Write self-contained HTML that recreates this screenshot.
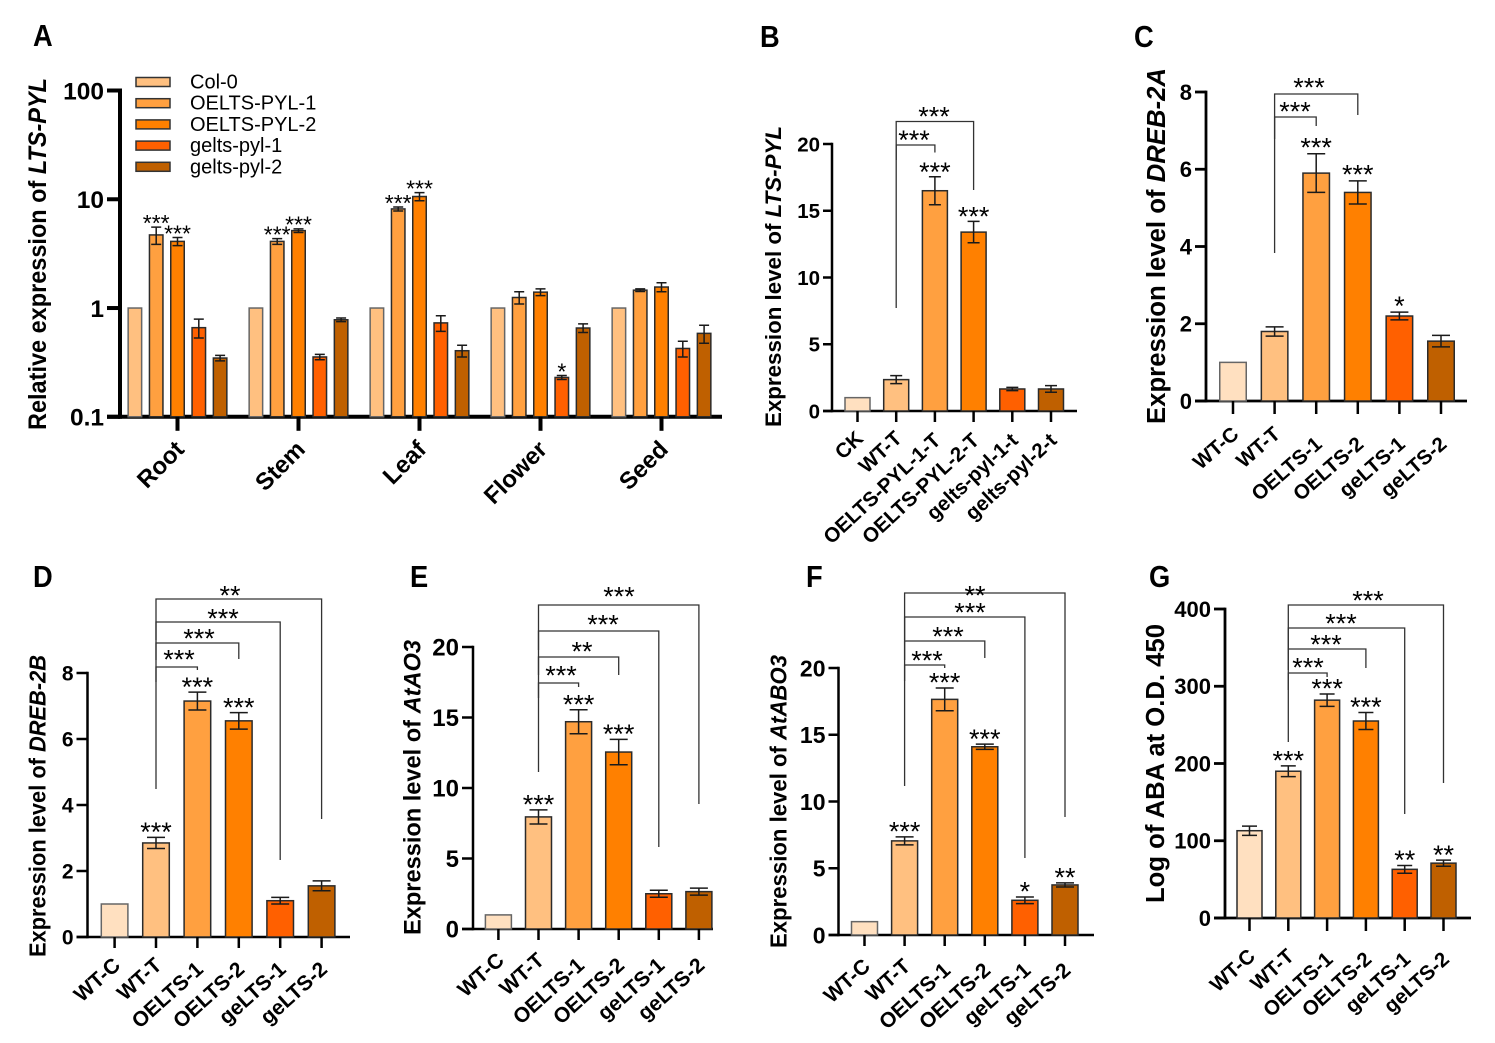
<!DOCTYPE html>
<html>
<head>
<meta charset="utf-8">
<title>LTS-PYL expression panels</title>
<style>
html,body{margin:0;padding:0;background:#fff;}
svg{display:block;}
text{font-family:"Liberation Sans",Arial,sans-serif;fill:#000;}
</style>
</head>
<body>
<svg id="figure" xmlns="http://www.w3.org/2000/svg" width="1495" height="1043" viewBox="0 0 1495 1043"></svg>
<script>
// ---------- Panel A data ----------
const tissuesA = ['Root', 'Stem', 'Leaf', 'Flower', 'Seed'];
const seriesNamesA = ['Col-0', 'OELTS-PYL-1', 'OELTS-PYL-2', 'gelts-pyl-1', 'gelts-pyl-2'];
const ticksA = [0.1, 1, 10, 100];
const tickLabelsA = ['0.1', '1', '10', '100'];
const col0Values = [1, 1, 1, 1, 1];
const col0Errors = [0, 0, 0, 0, 0];
const oe1Values = [4.7, 4.1, 8.15, 1.25, 1.46];
const oe1Errors = [0.85, 0.25, 0.35, 0.16, 0.04];
const oe2Values = [4.1, 5.15, 10.6, 1.4, 1.56];
const oe2Errors = [0.35, 0.2, 0.9, 0.1, 0.15];
const ge1Values = [0.66, 0.355, 0.73, 0.23, 0.425];
const ge1Errors = [0.13, 0.02, 0.12, 0.01, 0.07];
const ge2Values = [0.347, 0.78, 0.405, 0.655, 0.585];
const ge2Errors = [0.02, 0.03, 0.05, 0.06, 0.11];
const col0Stars = ['', '', '', '', ''];
const oe1Stars = ['***', '***', '***', '', ''];
const oe2Stars = ['***', '***', '***', '', ''];
const ge1Stars = ['', '', '', '*', ''];
const ge2Stars = ['', '', '', '', ''];

// ---------- Panel B data ----------
const categoriesB = ['CK', 'WT-T', 'OELTS-PYL-1-T', 'OELTS-PYL-2-T', 'gelts-pyl-1-t', 'gelts-pyl-2-t'];
const valuesB = [1, 2.35, 16.5, 13.4, 1.65, 1.65];
const errorsB = [0, 0.3, 1.05, 0.8, 0.12, 0.25];
const starsB = ['', '', '***', '***', '', ''];
const ticksB = [0, 5, 10, 15, 20];

// ---------- Panels C-G data ----------
const categoriesLines = ['WT-C', 'WT-T', 'OELTS-1', 'OELTS-2', 'geLTS-1', 'geLTS-2'];
const valuesC = [1, 1.8, 5.9, 5.4, 2.2, 1.55];
const errorsC = [0, 0.12, 0.5, 0.3, 0.1, 0.15];
const starsC = ['', '', '***', '***', '*', ''];
const ticksC = [0, 2, 4, 6, 8];

const valuesD = [1, 2.85, 7.15, 6.55, 1.1, 1.55];
const errorsD = [0, 0.17, 0.27, 0.25, 0.1, 0.15];
const starsD = ['', '***', '***', '***', '', ''];
const ticksD = [0, 2, 4, 6, 8];

const valuesE = [1, 7.95, 14.7, 12.55, 2.5, 2.65];
const errorsE = [0, 0.5, 0.85, 0.9, 0.25, 0.25];
const starsE = ['', '***', '***', '***', '', ''];
const ticksE = [0, 5, 10, 15, 20];

const valuesF = [1, 7.05, 17.65, 14.1, 2.6, 3.75];
const errorsF = [0, 0.3, 0.85, 0.2, 0.25, 0.15];
const starsF = ['', '***', '***', '***', '*', '**'];
const ticksF = [0, 5, 10, 15, 20];

const valuesG = [113, 190, 282, 255, 63, 71];
const errorsG = [6, 7, 8, 11, 5, 4];
const starsG = ['', '***', '***', '***', '**', '**'];
const ticksG = [0, 100, 200, 300, 400];

// ---------- Styling / layout (not data) ----------
const paletteA = ['#FFC080', '#FFA040', '#FF8000', '#FF6000', '#BF6000'];
const paletteSix = ['#FFE0C0', '#FFC080', '#FFA040', '#FF8000', '#FF6000', '#BF6000'];
const svg = document.getElementById('figure');
const NS = 'http://www.w3.org/2000/svg';

function make(tag, parent, props, content) {
  const el = document.createElementNS(NS, tag);
  for (const k in props) el.setAttribute(k, props[k]);
  if (content !== undefined) el.textContent = content;
  parent.appendChild(el);
  return el;
}

function axisLinear(base, top, max) {
  return function (v) { return base - (v / max) * (base - top); };
}
function axisLog(base, top, minV, maxV) {
  const lo = Math.log10(minV), hi = Math.log10(maxV);
  return function (v) { return base - (Math.log10(v) - lo) / (hi - lo) * (base - top); };
}

function drawLetter(letter, x, y) {
  const t = make('text', svg, { transform: 'translate(' + x + ',' + y + ') scale(0.88,1)', 'font-size': 31, 'font-weight': 'bold' }, letter);
  
  
}

function drawTitle(g, parts, cx, cy, len, fs) {
  const t = make('text', g, {
    transform: 'translate(' + cx + ',' + cy + ') rotate(-90)',
    'text-anchor': 'middle', 'font-size': fs, 'font-weight': 'bold',
    dy: '0.36em', textLength: len, lengthAdjust: 'spacingAndGlyphs'
  });
  
  
  make('tspan', t, {}, parts[0]);
  if (parts[1]) make('tspan', t, { 'font-style': 'italic' }, parts[1]);
}

function drawAxes(g, p, yOf, ticks, labels) {
  const yAxis = make('line', g, { x1: p.axisX, x2: p.axisX, y1: p.top - p.axisW / 2, y2: p.base + p.axisW / 2, stroke: '#000', 'stroke-width': p.axisW });
  
  
  const xAxis = make('line', g, { x1: p.axisX - p.yTick, x2: p.endX, y1: p.base, y2: p.base, stroke: '#000', 'stroke-width': p.axisW });
  
  
  ticks.forEach(function (v, i) {
    const yy = yOf(v);
    const tk = make('line', g, { x1: p.axisX - p.yTick, x2: p.axisX, y1: yy, y2: yy, stroke: '#000', 'stroke-width': p.axisW });
    
    
    const lb = make('text', g, { x: p.axisX - p.yTick - 3, y: yy + p.tickFs * 0.36, 'text-anchor': 'end', 'font-size': p.tickFs, 'font-weight': 'bold' }, labels ? labels[i] : String(v));
    
    
  });
}

function drawXLabel(g, p, tx, label, idx) {
  const tk = make('line', g, { x1: tx, x2: tx, y1: p.base, y2: p.base + p.xTick, stroke: '#000', 'stroke-width': p.xTickW });
  
  
  const extra = (p.labelExtra && idx >= 2) ? p.labelExtra : 0;
  const lx = tx + p.labelDx, ly = p.base + p.labelDy + extra;
  const lb = make('text', g, { transform: 'translate(' + lx + ',' + ly + ') rotate(' + (p.labelAngle || -45) + ')', 'text-anchor': 'end', 'font-size': p.labelFs, 'font-weight': 'bold' }, label);
  
  
}

function drawBar(g, p, yOf, cx, val, err, color, star) {
  const yy = yOf(val);
  const bar = make('rect', g, { x: cx - p.barW / 2, y: yy, width: p.barW, height: p.base - yy, fill: color, stroke: err > 0 ? '#2b2b2b' : '#666', 'stroke-width': p.barStroke });
  
  
  if (err > 0) {
    const hi = yOf(val + err), lo = yOf(val - err);
    const eb = make('path', g, {
      d: 'M' + cx + ' ' + lo + 'V' + hi + 'M' + (cx - p.capW / 2) + ' ' + hi + 'H' + (cx + p.capW / 2) + 'M' + (cx - p.capW / 2) + ' ' + lo + 'H' + (cx + p.capW / 2),
      fill: 'none', stroke: '#1a1a1a', 'stroke-width': 1.5
    });
    
    
  }
  if (star) {
    const top = err > 0 ? yOf(val + err) : yy;
    const s = make('text', g, { x: cx, y: top - p.starGap + p.starFs * 0.47, 'text-anchor': 'middle', 'font-size': p.starFs }, star);
    
    
  }
}

function drawBrackets(g, p, xOf) {
  p.brackets.forEach(function (b) {
    const x1 = xOf(b.from), x2 = xOf(b.to);
    const br = make('path', g, {
      d: 'M' + x1 + ' ' + b.leftEnd + 'V' + b.y + 'H' + x2 + 'V' + b.rightEnd,
      fill: 'none', stroke: '#333', 'stroke-width': 1.3
    });
    
    
    const s = make('text', g, { x: b.lx, y: b.ly + p.starFs * 0.47, 'text-anchor': 'middle', 'font-size': p.starFs }, b.label);
    
    
  });
}

function drawPanel(name, p, categories, values, errors, stars, ticks) {
  const g = make('g', svg, {});
  
  
  const yOf = axisLinear(p.base, p.top, ticks[ticks.length - 1]);
  const xOf = function (i) { return p.x0 + i * p.step; };
  drawAxes(g, p, yOf, ticks);
  categories.forEach(function (c, i) {
    drawBar(g, p, yOf, xOf(i), values[i], errors[i], paletteSix[i], stars[i]);
    drawXLabel(g, p, xOf(i), c, i);
  });
  drawBrackets(g, p, xOf);
  drawTitle(g, p.title, p.titleX, p.titleY, p.titleLen, p.titleFs);
}

// ---------- Panel A ----------
(function () {
  const g = make('g', svg, {});
  
  
  const p = { axisX: 120, top: 90.5, base: 416.8, endX: 722, axisW: 4, yTick: 13, tickFs: 24.5, xTick: 14, xTickW: 4, labelDx: 8, labelDy: 34, labelFs: 24, barW: 13.5, barStroke: 1.5, capW: 10, starFs: 23, starGap: 7 };
  const yOf = axisLog(p.base, p.top, 0.1, 100);
  drawAxes(g, p, yOf, ticksA, tickLabelsA);
  const allValues = [col0Values, oe1Values, oe2Values, ge1Values, ge2Values];
  const allErrors = [col0Errors, oe1Errors, oe2Errors, ge1Errors, ge2Errors];
  const allStars = [col0Stars, oe1Stars, oe2Stars, ge1Stars, ge2Stars];
  const xOf = function (i) { return 177.5 + i * 121; };
  tissuesA.forEach(function (t, i) {
    seriesNamesA.forEach(function (s, j) {
      drawBar(g, p, yOf, xOf(i) + (j - 2) * 21.3, allValues[j][i], allErrors[j][i], paletteA[j], allStars[j][i]);
    });
    drawXLabel(g, p, xOf(i), t, 0);
  });
  seriesNamesA.forEach(function (s, j) {
    const cy = 82 + j * 21.2;
    const sw = make('rect', g, { x: 136, y: cy - 4.5, width: 34, height: 9, fill: paletteA[j], stroke: '#333', 'stroke-width': 1.5 });
    
    
    const lb = make('text', g, { x: 190, y: cy + 6.5, 'font-size': 20, fill: '#222' }, s);
    
    
  });
  drawTitle(g, ['Relative expression of ', 'LTS-PYL'], 37, 254, 352, 25);
})();

// ---------- Panels B-G ----------
drawPanel('panel-b', {
  axisX: 832, top: 144, base: 411, endX: 1077, axisW: 2.5, yTick: 9, tickFs: 20.5, xTick: 11, xTickW: 2.5,
  labelDx: 7, labelDy: 29, labelExtra: 2, labelAngle: -43, labelFs: 20.5, barW: 25, barStroke: 1.5, capW: 12, starFs: 27, starGap: 8.5,
  x0: 857.5, step: 38.7, title: ['Expression level of ', 'LTS-PYL'], titleX: 773, titleY: 276.5, titleLen: 301, titleFs: 22.5,
  brackets: [
    { from: 1, to: 3, y: 121.5, leftEnd: 308, rightEnd: 190, label: '***', lx: 934, ly: 113 },
    { from: 1, to: 2, y: 145, leftEnd: 160, rightEnd: 152.5, label: '***', lx: 914, ly: 136.5 }
  ]
}, categoriesB, valuesB, errorsB, starsB, ticksB);

drawPanel('panel-c', {
  axisX: 1206, top: 92, base: 401, endX: 1467, axisW: 2.8, yTick: 11, tickFs: 22, xTick: 13, xTickW: 2.5,
  labelDx: 7, labelDy: 35, labelExtra: 10, labelAngle: -41, labelFs: 20.5, barW: 26.5, barStroke: 1.5, capW: 18, starFs: 27, starGap: 10,
  x0: 1233, step: 41.6, title: ['Expression level of ', 'DREB-2A'], titleX: 1156, titleY: 246, titleLen: 356, titleFs: 25.5,
  brackets: [
    { from: 1, to: 3, y: 94, leftEnd: 139, rightEnd: 115, label: '***', lx: 1309, ly: 84 },
    { from: 1, to: 2, y: 117, leftEnd: 253, rightEnd: 126, label: '***', lx: 1295, ly: 108 }
  ]
}, categoriesLines, valuesC, errorsC, starsC, ticksC);

drawPanel('panel-d', {
  axisX: 87.5, top: 673, base: 937, endX: 350, axisW: 2.5, yTick: 11, tickFs: 21, xTick: 11, xTickW: 2.5,
  labelDx: 7, labelDy: 30, labelExtra: 4, labelAngle: -42, labelFs: 21, barW: 26.6, barStroke: 1.5, capW: 18, starFs: 27, starGap: 9,
  x0: 114.6, step: 41.4, title: ['Expression level of ', 'DREB-2B'], titleX: 37, titleY: 806, titleLen: 302, titleFs: 23.5,
  brackets: [
    { from: 1, to: 5, y: 599, leftEnd: 789, rightEnd: 819, label: '**', lx: 230, ly: 592 },
    { from: 1, to: 4, y: 622, leftEnd: 640, rightEnd: 860, label: '***', lx: 223, ly: 615 },
    { from: 1, to: 3, y: 643, leftEnd: 660, rightEnd: 659, label: '***', lx: 199, ly: 635 },
    { from: 1, to: 2, y: 667, leftEnd: 682, rightEnd: 670, label: '***', lx: 179, ly: 656 }
  ]
}, categoriesLines, valuesD, errorsD, starsD, ticksD);

drawPanel('panel-e', {
  axisX: 473, top: 647, base: 929, endX: 713, axisW: 2.5, yTick: 11, tickFs: 24, xTick: 11, xTickW: 2.5,
  labelDx: 7, labelDy: 33, labelExtra: 5, labelAngle: -42, labelFs: 21, barW: 26, barStroke: 1.5, capW: 18, starFs: 27, starGap: 9,
  x0: 498.4, step: 40.1, title: ['Expression level of ', 'AtAO3'], titleX: 412, titleY: 787.5, titleLen: 295, titleFs: 24,
  brackets: [
    { from: 1, to: 5, y: 605, leftEnd: 772, rightEnd: 804, label: '***', lx: 619, ly: 593 },
    { from: 1, to: 4, y: 631, leftEnd: 650, rightEnd: 847, label: '***', lx: 603, ly: 621 },
    { from: 1, to: 3, y: 657, leftEnd: 675, rightEnd: 675, label: '**', lx: 582, ly: 648 },
    { from: 1, to: 2, y: 683, leftEnd: 698, rightEnd: 687, label: '***', lx: 561, ly: 672 }
  ]
}, categoriesLines, valuesE, errorsE, starsE, ticksE);

drawPanel('panel-f', {
  axisX: 838.5, top: 668, base: 935, endX: 1094, axisW: 2.5, yTick: 10, tickFs: 23, xTick: 11, xTickW: 2.5,
  labelDx: 7, labelDy: 33, labelExtra: 4, labelAngle: -42, labelFs: 21, barW: 26, barStroke: 1.5, capW: 18, starFs: 27, starGap: 9,
  x0: 864.5, step: 40.1, title: ['Expression level of ', 'AtABO3'], titleX: 778, titleY: 801.5, titleLen: 293, titleFs: 23.5,
  brackets: [
    { from: 1, to: 5, y: 593, leftEnd: 786, rightEnd: 817, label: '**', lx: 975, ly: 592 },
    { from: 1, to: 4, y: 617, leftEnd: 640, rightEnd: 858, label: '***', lx: 970, ly: 609 },
    { from: 1, to: 3, y: 641, leftEnd: 660, rightEnd: 658, label: '***', lx: 948, ly: 633 },
    { from: 1, to: 2, y: 665, leftEnd: 681, rightEnd: 668, label: '***', lx: 927, ly: 657 }
  ]
}, categoriesLines, valuesF, errorsF, starsF, ticksF);

drawPanel('panel-g', {
  axisX: 1225, top: 609, base: 918, endX: 1471, axisW: 2.8, yTick: 11, tickFs: 22, xTick: 13, xTickW: 2.5,
  labelDx: 7, labelDy: 40, labelExtra: 3, labelAngle: -42, labelFs: 20.5, barW: 25, barStroke: 1.5, capW: 15, starFs: 27, starGap: 9,
  x0: 1249.5, step: 38.8, title: ['Log of ABA at O.D. 450'], titleX: 1155, titleY: 763.5, titleLen: 279, titleFs: 25.5,
  brackets: [
    { from: 1, to: 5, y: 605, leftEnd: 742, rightEnd: 783, label: '***', lx: 1368, ly: 597 },
    { from: 1, to: 4, y: 628, leftEnd: 650, rightEnd: 814, label: '***', lx: 1341, ly: 620 },
    { from: 1, to: 3, y: 649, leftEnd: 670, rightEnd: 668, label: '***', lx: 1326, ly: 641 },
    { from: 1, to: 2, y: 673, leftEnd: 690, rightEnd: 677, label: '***', lx: 1308, ly: 664 }
  ]
}, categoriesLines, valuesG, errorsG, starsG, ticksG);

// ---------- Panel letters ----------
drawLetter('A', 33, 46);
drawLetter('B', 760, 47);
drawLetter('C', 1134, 47);
drawLetter('D', 33, 587);
drawLetter('E', 410, 587);
drawLetter('F', 806, 587);
drawLetter('G', 1149, 587);
</script>
</body>
</html>
